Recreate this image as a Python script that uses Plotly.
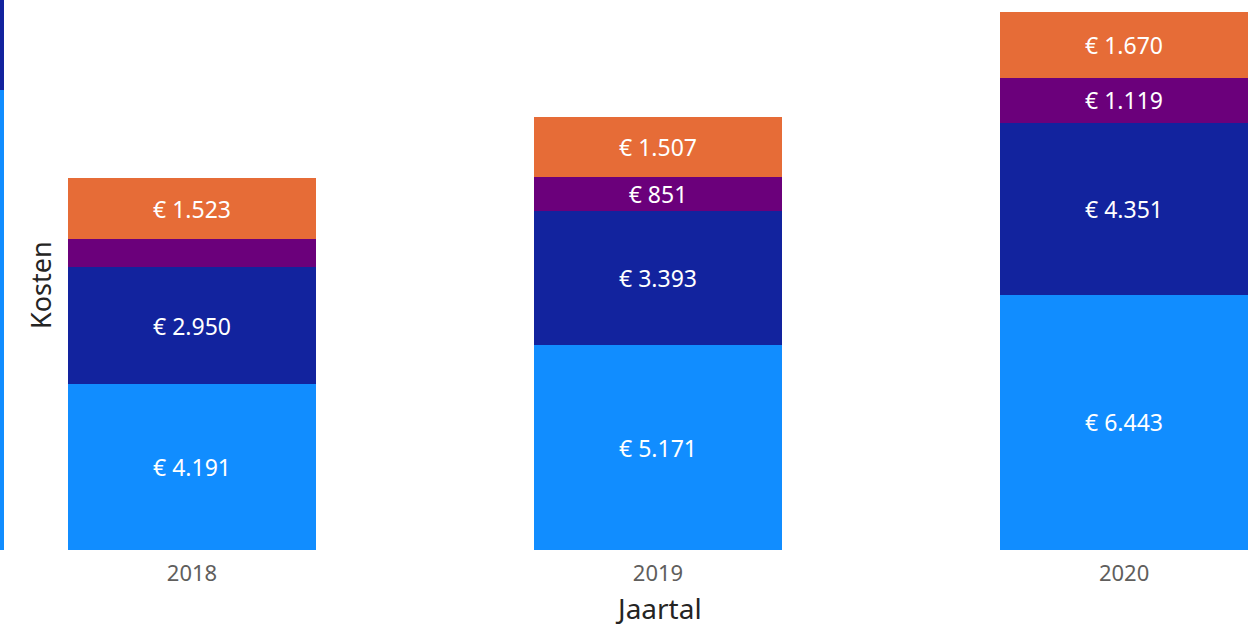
import plotly.graph_objects as go

# Kosten per jaar, opgesplitst in vier kostenposten (van onder naar boven)
jaren = ["2018", "2019", "2020"]
post_1 = [4191, 5171, 6443]
post_2 = [2950, 3393, 4351]
post_3 = [720, 851, 1119]
post_4 = [1523, 1507, 1670]

series = [post_1, post_2, post_3, post_4]
kleuren = ["#118DFF", "#12239E", "#6B007B", "#E66C37"]

# Labels worden alleen getoond als ze in het segment passen
MIN_LABEL = 800


def fmt(v):
    return "€ " + f"{v:,.0f}".replace(",", ".")


fig = go.Figure()
for waarden, kleur in zip(series, kleuren):
    fig.add_trace(go.Bar(
        x=jaren,
        y=waarden,
        marker=dict(color=kleur, line=dict(width=0)),
        width=0.534,
        text=[fmt(v) if v >= MIN_LABEL else "" for v in waarden],
        textposition="inside",
        insidetextanchor="middle",
        textangle=0,
        textfont=dict(color="white", size=23, family="Noto Sans"),
        hoverinfo="skip",
        showlegend=False,
    ))

# Smalle strook van een aangrenzende visual aan de linkerrand
strook_grens = 11615
fig.add_shape(type="rect", xref="paper", yref="y", x0=0, x1=4 / 1255,
              y0=0, y1=strook_grens, fillcolor="#118DFF", line=dict(width=0), layer="below")
fig.add_shape(type="rect", xref="paper", yref="paper", x0=0, x1=4 / 1255,
              y0=strook_grens / 13887, y1=1, fillcolor="#12239E", line=dict(width=0), layer="below")

fig.update_layout(
    width=1255,
    height=628,
    margin=dict(l=0, r=0, t=0, b=78),
    barmode="stack",
    plot_bgcolor="white",
    paper_bgcolor="white",
    uniformtext=dict(minsize=23, mode="show"),
    xaxis=dict(
        type="category",
        range=[-0.412, 2.281],
        showgrid=False,
        showline=False,
        zeroline=False,
        ticks="",
        ticklabelstandoff=8,
        tickfont=dict(family="Noto Sans", size=22, color="#605E5C"),
    ),
    yaxis=dict(
        range=[0, 13887],
        showgrid=False,
        showline=False,
        zeroline=False,
        showticklabels=False,
        ticks="",
    ),
    annotations=[
        dict(text="Jaartal", xref="paper", yref="paper", x=658 / 1255, y=-58 / 550,
             showarrow=False, xanchor="center", yanchor="middle",
             font=dict(family="Noto Sans", size=28, color="#252423")),
        dict(text="Kosten", xref="paper", yref="paper", x=40 / 1255, y=(550 - 285) / 550,
             showarrow=False, xanchor="center", yanchor="middle", textangle=-90,
             font=dict(family="Noto Sans", size=27, color="#252423")),
    ],
)

fig.write_html("out.html")
